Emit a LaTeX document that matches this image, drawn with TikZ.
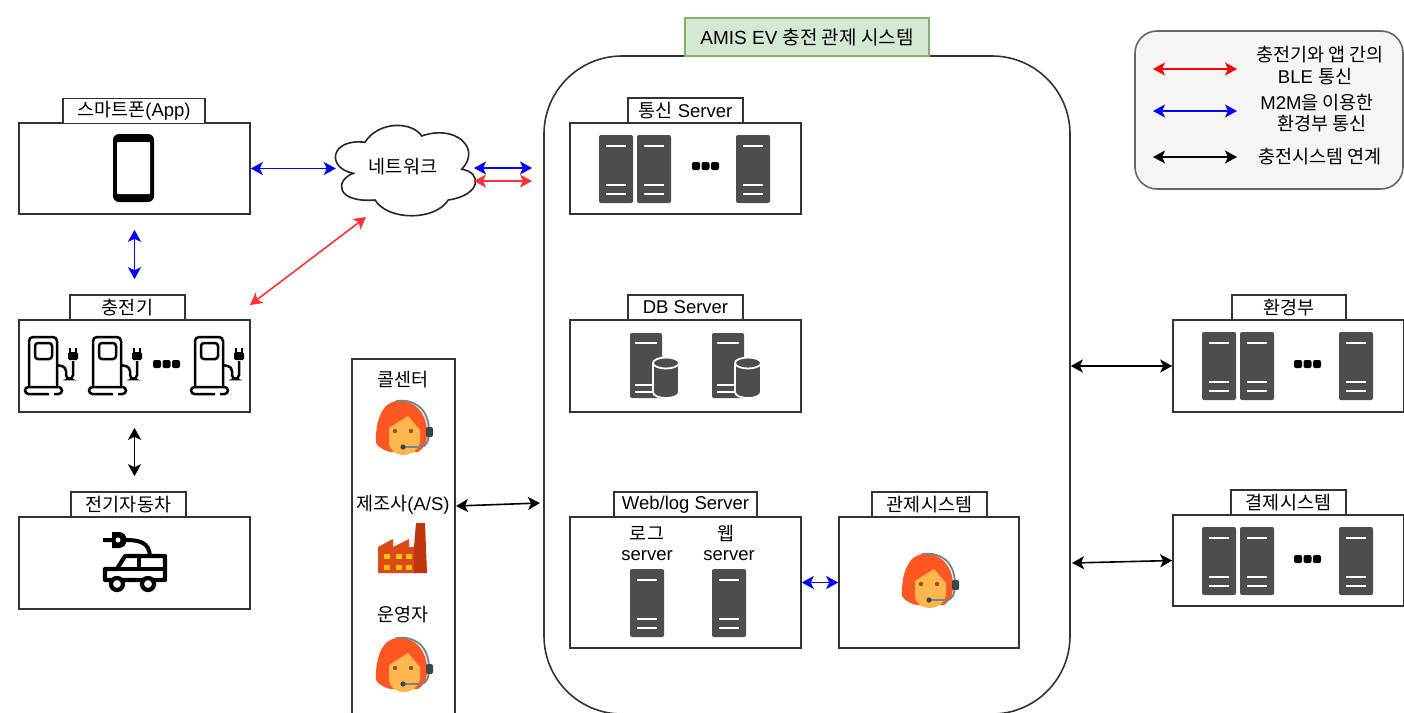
\documentclass[tikz,border=0pt]{standalone}
\usepackage{fontspec}
\setmainfont{Liberation Sans}
\newfontfamily\kr{Noto Sans CJK KR}
\usetikzlibrary{arrows.meta}
\definecolor{srvgray}{HTML}{4D4D4D}
\definecolor{netred}{HTML}{FF3333}
\definecolor{hairorange}{HTML}{FF5722}
\definecolor{facecol}{HTML}{FFB74D}
\definecolor{setgray}{HTML}{78858C}
\definecolor{setdark}{HTML}{37474F}
\definecolor{factmain}{HTML}{DD4A1A}
\definecolor{factdark}{HTML}{BF360C}
\definecolor{factwin}{HTML}{FFC107}
\definecolor{amisfill}{HTML}{D5E8D4}
\definecolor{amisline}{HTML}{82B366}
\tikzset{
 pics/servericon/.style={code={
  \fill[srvgray,rounded corners=2pt] (0,0) rectangle (34,68);
  \foreach \yy in {11,50,59} \draw[white,line width=1.8pt] (7,\yy) -- (27,\yy);
 }},
 pics/dbicon/.style={code={
  \fill[srvgray,rounded corners=2pt] (0,0) rectangle (32,65);
  \foreach \yy in {10,52,59} \draw[white,line width=1.8pt] (5,\yy) -- (27,\yy);
  \draw[white,fill=srvgray,line width=1.8pt] (23,30) -- (23,59) .. controls (23,67) and (49,67) .. (49,59) -- (49,30);
  \draw[white,fill=srvgray,line width=1.8pt] (36,30) ellipse[x radius=13,y radius=5.5];
 }},
 pics/dotsicon/.style={code={
  \foreach \xx in {4,13.5,23} \fill[black,rounded corners=2pt] (\xx-4,-4) rectangle (\xx+4,4);
 }},
 pics/chargericon/.style={code={
  \draw[black,line width=2.5pt,rounded corners=4pt] (4,49) -- (4,0) -- (32,0) -- (32,49);
  \draw[black,line width=2.5pt,rounded corners=3pt] (10,6) rectangle (27,22);
  \draw[black,line width=2.5pt,rounded corners=3.5pt] (24,57) -- (0,57) -- (0,50) -- (37,50) -- (37,57) -- (29,57);
  \draw[black,line width=2.5pt,rounded corners=4pt] (32,28) -- (41,30) -- (41,42) -- (48,42) -- (48,24);
  \fill[black,rounded corners=1.5pt] (43,15) rectangle (53,23);
  \draw[black,line width=1.6pt] (45,16) -- (45,11) (51,16) -- (51,11);
 }},
 pics/evicon/.style={code={
  % plug and cable
  \fill[black] (9,0) -- (16,0) .. controls (26,0) and (26,16) .. (16,16) -- (9,16) -- cycle;
  \fill[white] (15,8) circle[radius=2.5];
  \draw[black,line width=4pt] (0,8) -- (10,8) (22,8) .. controls (36,8) and (46,10) .. (47,24);
  % car
  \draw[black,line width=4.2pt,line join=round,fill=white] (2,37) -- (14,37) -- (22,24) -- (62,24) -- (62,48) -- (2,48) -- cycle;
  \draw[black,line width=3.6pt] (14,37) -- (62,37) (36,24) -- (36,37);
  \draw[black,line width=4.2pt,fill=white] (14,52) circle[radius=6];
  \draw[black,line width=4.2pt,fill=white] (45,52) circle[radius=6];
 }},
 pics/agenticon/.style={code={
  \fill[hairorange] (0,43) .. controls (-1,22) and (6,1) .. (22,1) .. controls (40,0) and (50,14) .. (51,30) .. controls (51,42) and (50,46) .. (42,52) -- (14,52) .. controls (8,50) and (3,48) .. (0,43) -- cycle;
  \fill[facecol] (13,28) -- (32,16) -- (44,30) -- (44,42) .. controls (42,51) and (35,55) .. (28,55) .. controls (20,55) and (13,50) .. (13,42) -- cycle;
  \fill[brown!70!black] (19,31) circle[radius=2.2];
  \fill[brown!70!black] (35,31) circle[radius=2.2];
  \draw[setgray,line width=1.9pt] (20,1) .. controls (36,-1) and (52,6) .. (53,30) .. controls (53,42) and (50,47) .. (44,47) -- (27,47);
  \fill[setdark,rounded corners=2pt] (50,27) rectangle (57,37);
  \fill[setdark] (27,47) circle[radius=2.6];
 }},
 pics/facticon/.style={code={
  \fill[factmain] (0,24) -- (15,16) -- (15,24) -- (31,16) -- (31,24) -- (37,24) -- (37,50) -- (0,50) -- cycle;
  \fill[factdark] (36,50) -- (36,24) -- (38,0) -- (47,0) -- (49,50) -- cycle;
  \foreach \xx in {6,18,28} \foreach \yy in {31,42} \fill[factwin] (\xx,\yy) rectangle (\xx+5.5,\yy+5);
 }},
 pics/phoneicon/.style={code={
  \fill[black,rounded corners=6pt] (0,0) rectangle (41,68);
  \fill[white,rounded corners=1pt] (4,8) rectangle (37,60);
 }}
}
\begin{document}
\begin{tikzpicture}[x=1pt,y=-1pt,font=\fontsize{18.5}{22}\selectfont]
\tikzstyle{panel}=[draw=black!80,line width=1.6pt,fill=white,inner sep=0pt]
\tikzstyle{caption}=[inner sep=0pt]
\tikzstyle{legendtext}=[inner sep=0pt,font=\fontsize{18.5}{22}\selectfont]
\tikzstyle{link}=[line width=1.6pt,>={Stealth[length=12pt,width=13pt,inset=3pt]},<->]
\clip (0,0) rectangle (1404,712);
\fill[white] (0,0) rectangle (1404,712);
% boxes
\node[panel,rounded corners=78pt,minimum width=526,minimum height=658] (system) at (807,385) {};
\node[panel,draw=amisline,fill=amisfill,minimum width=244,minimum height=38,font=\fontsize{19}{22}\selectfont] (amis) at (807,37) {AMIS EV {\kr 충전 관제 시스템}};
\node[panel,rounded corners=22pt,draw=black!60,fill=black!4,minimum width=268,minimum height=158] (legend) at (1269,110) {};
\node[panel,minimum width=103,minimum height=356] (callbox) at (403.5,537) {};
\foreach \name/\point/\w/\h in {
	phone/{134.5,168.5}/231/91,
	charger/{134.5,366}/231/92,
	ev/{134.5,563}/231/92,
	comm/{685.5,168.5}/231/91,
	db/{685.5,366}/231/92,
	weblog/{685.5,582.5}/231/131,
	mgmt/{929,582.5}/180/131,
	env/{1288.5,366}/231/92,
	pay/{1288.5,560.5}/231/91}
	\node[panel,minimum width=\w,minimum height=\h] (\name) at (\point) {};
% titles
\foreach \name/\point/\w/\txt in {
	phonetitle/{134,111}/142/{{\kr 스마트폰}(App)},
	chargertitle/{127.5,307.5}/115/{\kr 충전기},
	evtitle/{128.5,504.5}/115/{\kr 전기자동차},
	commtitle/{685.5,110.5}/115/{{\kr 통신} Server},
	dbtitle/{685.5,307.5}/115/{DB Server},
	weblogtitle/{685.5,504.5}/143/{Web/log Server},
	mgmttitle/{929.5,504.5}/115/{\kr 관제시스템},
	envtitle/{1289,307.5}/114/{\kr 환경부},
	paytitle/{1288.5,502.5}/115/{\kr 결제시스템}}
	\node[panel,minimum width=\w,minimum height=25] (\name) at (\point) {\txt};
% network cloud
\draw[draw=black!85,line width=1.6pt,fill=white] (353.3,173.3) .. controls (326,168) and (330,138) .. (365,142.3)
	.. controls (378,121) and (412,121) .. (421.7,136)
	.. controls (455,124) and (482,148) .. (461.7,169.3)
	.. controls (482,172) and (482,195) .. (448.3,200)
	.. controls (435,221) and (388,221) .. (375,200)
	.. controls (335,203) and (335,180) .. (353.3,173.3) -- cycle;
\node[caption,minimum width=140,minimum height=91] (network) at (406,168.5) {};
\node[caption] (networktext) at (403,167) {\kr 네트워크};
% icons
\pic at (113,134) {phoneicon};
\foreach \point in {{25,337},{89,337},{191,337}} \pic at (\point) {chargericon};
\pic at (153,364) {dotsicon};
\pic at (103,532) {evicon};
\foreach \point in {{599,135},{637,135},{736,135},{630,569},{712,569},{1202,332},{1240,332},{1339,332},{1202,527},{1240,527},{1339,527}}
	\pic at (\point) {servericon};
\foreach \point in {{692,166},{1294,364},{1294,559}} \pic at (\point) {dotsicon};
\foreach \point in {{630,333},{712,333}} \pic at (\point) {dbicon};
\foreach \point in {{376,400},{376,637},{902,553}} \pic at (\point) {agenticon};
\pic at (378,523) {facticon};
% labels
\foreach \name/\point/\txt in {
	callcenter/{403,380}/{\kr 콜센터},
	maker/{403,505}/{{\kr 제조사}(A/S)},
	operator/{403,615}/{\kr 운영자},
	logname/{647,533}/{\kr 로그},
	logsrv/{647,556}/server,
	webname/{726,533}/{\kr 웹},
	websrv/{729,556}/server}
	\node[caption] (\name) at (\point) {\txt};
\foreach \name/\point/\txt in {
	bletext/{1320,55}/{\kr 충전기와 앱 간의},
	bletextb/{1315,77}/{BLE {\kr 통신}},
	mtext/{1317,103}/{M2M{\kr 을 이용한}},
	mtextb/{1322,124}/{\kr 환경부 통신},
	evtext/{1320,157}/{\kr 충전시스템 연계}}
	\node[legendtext] (\name) at (\point) {\txt};
% free ends of the arrows
\foreach \name/\point in {
	netblue/{474,168},
	sysblue/{532,168},
	netred/{474,181},
	sysred/{532,181},
	netlow/{366,217},
	chglow/{250,305},
	callend/{456,506},
	sysend/{540,503},
	syspay/{1072,563},
	redl/{1153,69},
	redr/{1237,69},
	bluel/{1153,111},
	bluer/{1237,111},
	blackl/{1153,157},
	blackr/{1237,157}}
	\coordinate (\name) at (\point);
% arrows
\draw[link,blue] (phone.east) -- (network.west);
\draw[link,blue,shorten <=15pt,shorten >=40pt] (phone.south) -- (charger.north);
\draw[link,shorten <=15pt,shorten >=40pt] (charger.south) -- (ev.north);
\draw[link,netred] (netlow) -- (chglow);
\draw[link,blue] (netblue) -- (sysblue);
\draw[link,netred] (netred) -- (sysred);
\draw[link] (callend) -- (sysend);
\draw[link,blue] (weblog.east) -- (mgmt.west);
\draw[link] (system.east |- env.west) -- (env.west);
\draw[link] (syspay) -- (pay.west);
\draw[link,red] (redl) -- (redr);
\draw[link,blue] (bluel) -- (bluer);
\draw[link] (blackl) -- (blackr);
\end{tikzpicture}
\end{document}
